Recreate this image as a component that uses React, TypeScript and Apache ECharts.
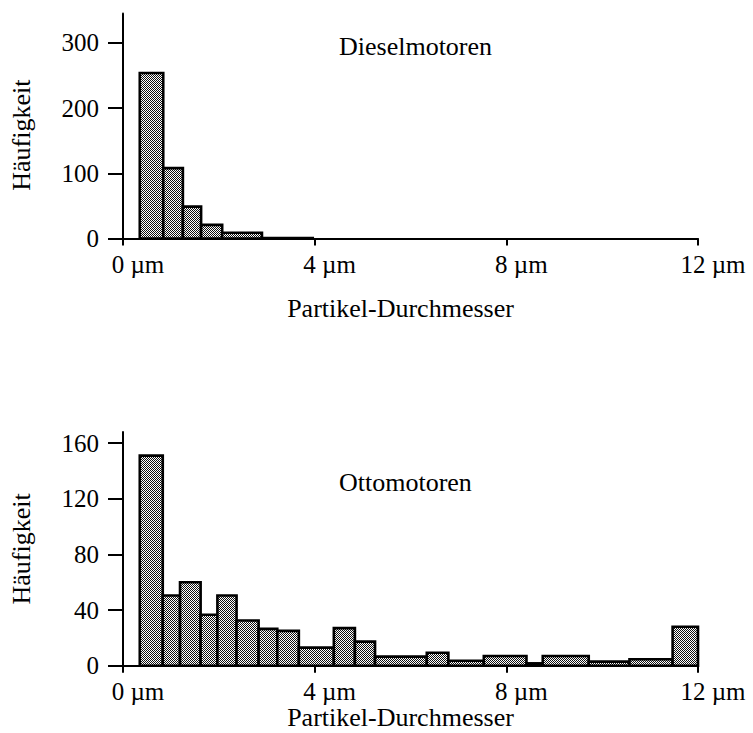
import React, { useEffect, useRef } from 'react';
import * as echarts from 'echarts';

// Diesel engines: bin edges (µm) and counts
const dieselEdges = [0.35, 0.84, 1.25, 1.63, 2.07, 2.9, 3.96];
const dieselCounts = [254, 108, 49, 21, 9, 1];

// Petrol (Otto) engines: bin edges (µm) and counts
const ottoEdges = [0.35, 0.83, 1.19, 1.62, 1.97, 2.37, 2.83, 3.22, 3.67, 4.4, 4.84, 5.26, 6.34, 6.79, 7.53, 8.42, 8.76, 9.72, 10.57, 11.47, 12.0];
const ottoCounts = [151, 50.5, 60, 36.6, 50.5, 32.5, 26.5, 25, 13, 27, 17.3, 6.5, 9.3, 3.6, 7, 1.7, 7, 2.9, 4.6, 28];

const xTicks = [0, 4, 8, 12];
const dieselYTicks = [0, 100, 200, 300];
const ottoYTicks = [0, 40, 80, 120, 160];

const titles = ['Dieselmotoren', 'Ottomotoren'];
const xName = 'Partikel-Durchmesser';
const yName = 'Häufigkeit';
const unit = '\u00a0µm';

const FONT = '"Liberation Serif", "Times New Roman", serif';

export default function App() {
  const ref = useRef<HTMLDivElement>(null);
  useEffect(() => {
    if (!ref.current) return;
    const chart = echarts.init(ref.current, null, { renderer: 'svg' });

    const c = document.createElement('canvas');
    c.width = 2;
    c.height = 2;
    const ctx = c.getContext('2d')!;
    ctx.fillStyle = '#ffffff';
    ctx.fillRect(0, 0, 2, 2);
    ctx.fillStyle = '#111111';
    [[0, 0], [1, 1]].forEach(([x, y]) => ctx.fillRect(x, y, 1, 1));
    const pattern: any = { image: c, repeat: 'repeat' };

    const renderItem = (_params: any, api: any) => {
      const p0 = api.coord([api.value(0), api.value(2)]);
      const p1 = api.coord([api.value(1), 0]);
      return {
        type: 'rect',
        shape: { x: p0[0], y: p0[1], width: p1[0] - p0[0], height: p1[1] - p0[1] },
        style: { fill: pattern, stroke: '#000', lineWidth: 2.6 },
      };
    };

    const mkData = (edges: number[], counts: number[]) =>
      counts.map((v, i) => [edges[i], edges[i + 1], v]);

    const xAxisBase = (gridIndex: number, nameGap: number) => ({
      type: 'value',
      gridIndex,
      min: 0,
      max: 12,
      interval: 4,
      name: xName,
      nameLocation: 'middle',
      nameGap,
      nameTextStyle: { fontFamily: FONT, fontSize: 26, color: '#000', padding: [0, 20, 0, 0] },
      axisLine: { show: true, onZero: false, lineStyle: { color: '#000', width: 2 } },
      axisTick: { show: true, length: 7, lineStyle: { color: '#000', width: 2 }, customValues: xTicks },
      splitLine: { show: false },
      axisLabel: {
        customValues: xTicks,
        margin: 13,
        color: '#000',
        fontFamily: FONT,
        fontSize: 25,
        padding: [0, 0, 0, 30],
        formatter: (v: number) => `${v}${unit}`,
      },
    });

    const yAxisBase = (gridIndex: number, max: number, ticks: number[], padTop: number) => ({
      type: 'value',
      gridIndex,
      min: 0,
      max,
      name: yName,
      nameLocation: 'middle',
      nameRotate: 90,
      nameGap: 89,
      nameTextStyle: { fontFamily: FONT, fontSize: 26, color: '#000', padding: [0, padTop, 0, 0] },
      axisLine: { show: true, lineStyle: { color: '#000', width: 2 } },
      axisTick: { show: true, length: 15, lineStyle: { color: '#000', width: 2 }, customValues: ticks },
      splitLine: { show: false },
      axisLabel: {
        customValues: ticks,
        margin: 24,
        color: '#000',
        fontFamily: FONT,
        fontSize: 25,
      },
    });

    chart.setOption({
      animation: false,
      backgroundColor: '#fff',
      title: [
        { text: titles[0], left: 339, top: 33, padding: 0, textStyle: { fontFamily: FONT, fontSize: 26, fontWeight: 'normal', color: '#000' } },
        { text: titles[1], left: 339, top: 469, padding: 0, textStyle: { fontFamily: FONT, fontSize: 26, fontWeight: 'normal', color: '#000' } },
      ],
      grid: [
        { left: 123, width: 575, top: 13.6, height: 225 },
        { left: 123, width: 575, top: 432, height: 233.7 },
      ],
      xAxis: [xAxisBase(0, 57), xAxisBase(1, 39)],
      yAxis: [yAxisBase(0, 345, dieselYTicks, 18), yAxisBase(1, 168, ottoYTicks, 0)],
      series: [
        {
          type: 'custom',
          xAxisIndex: 0,
          yAxisIndex: 0,
          renderItem,
          encode: { x: [0, 1], y: 2 },
          data: mkData(dieselEdges, dieselCounts),
        },
        {
          type: 'custom',
          xAxisIndex: 1,
          yAxisIndex: 1,
          renderItem,
          encode: { x: [0, 1], y: 2 },
          data: mkData(ottoEdges, ottoCounts),
        },
      ],
    });
    return () => chart.dispose();
  }, []);
  return (
    <div
      ref={ref}
      style={{ position: 'fixed', left: 0, top: 0, width: 753, height: 733, background: '#fff' }}
    />
  );
}
